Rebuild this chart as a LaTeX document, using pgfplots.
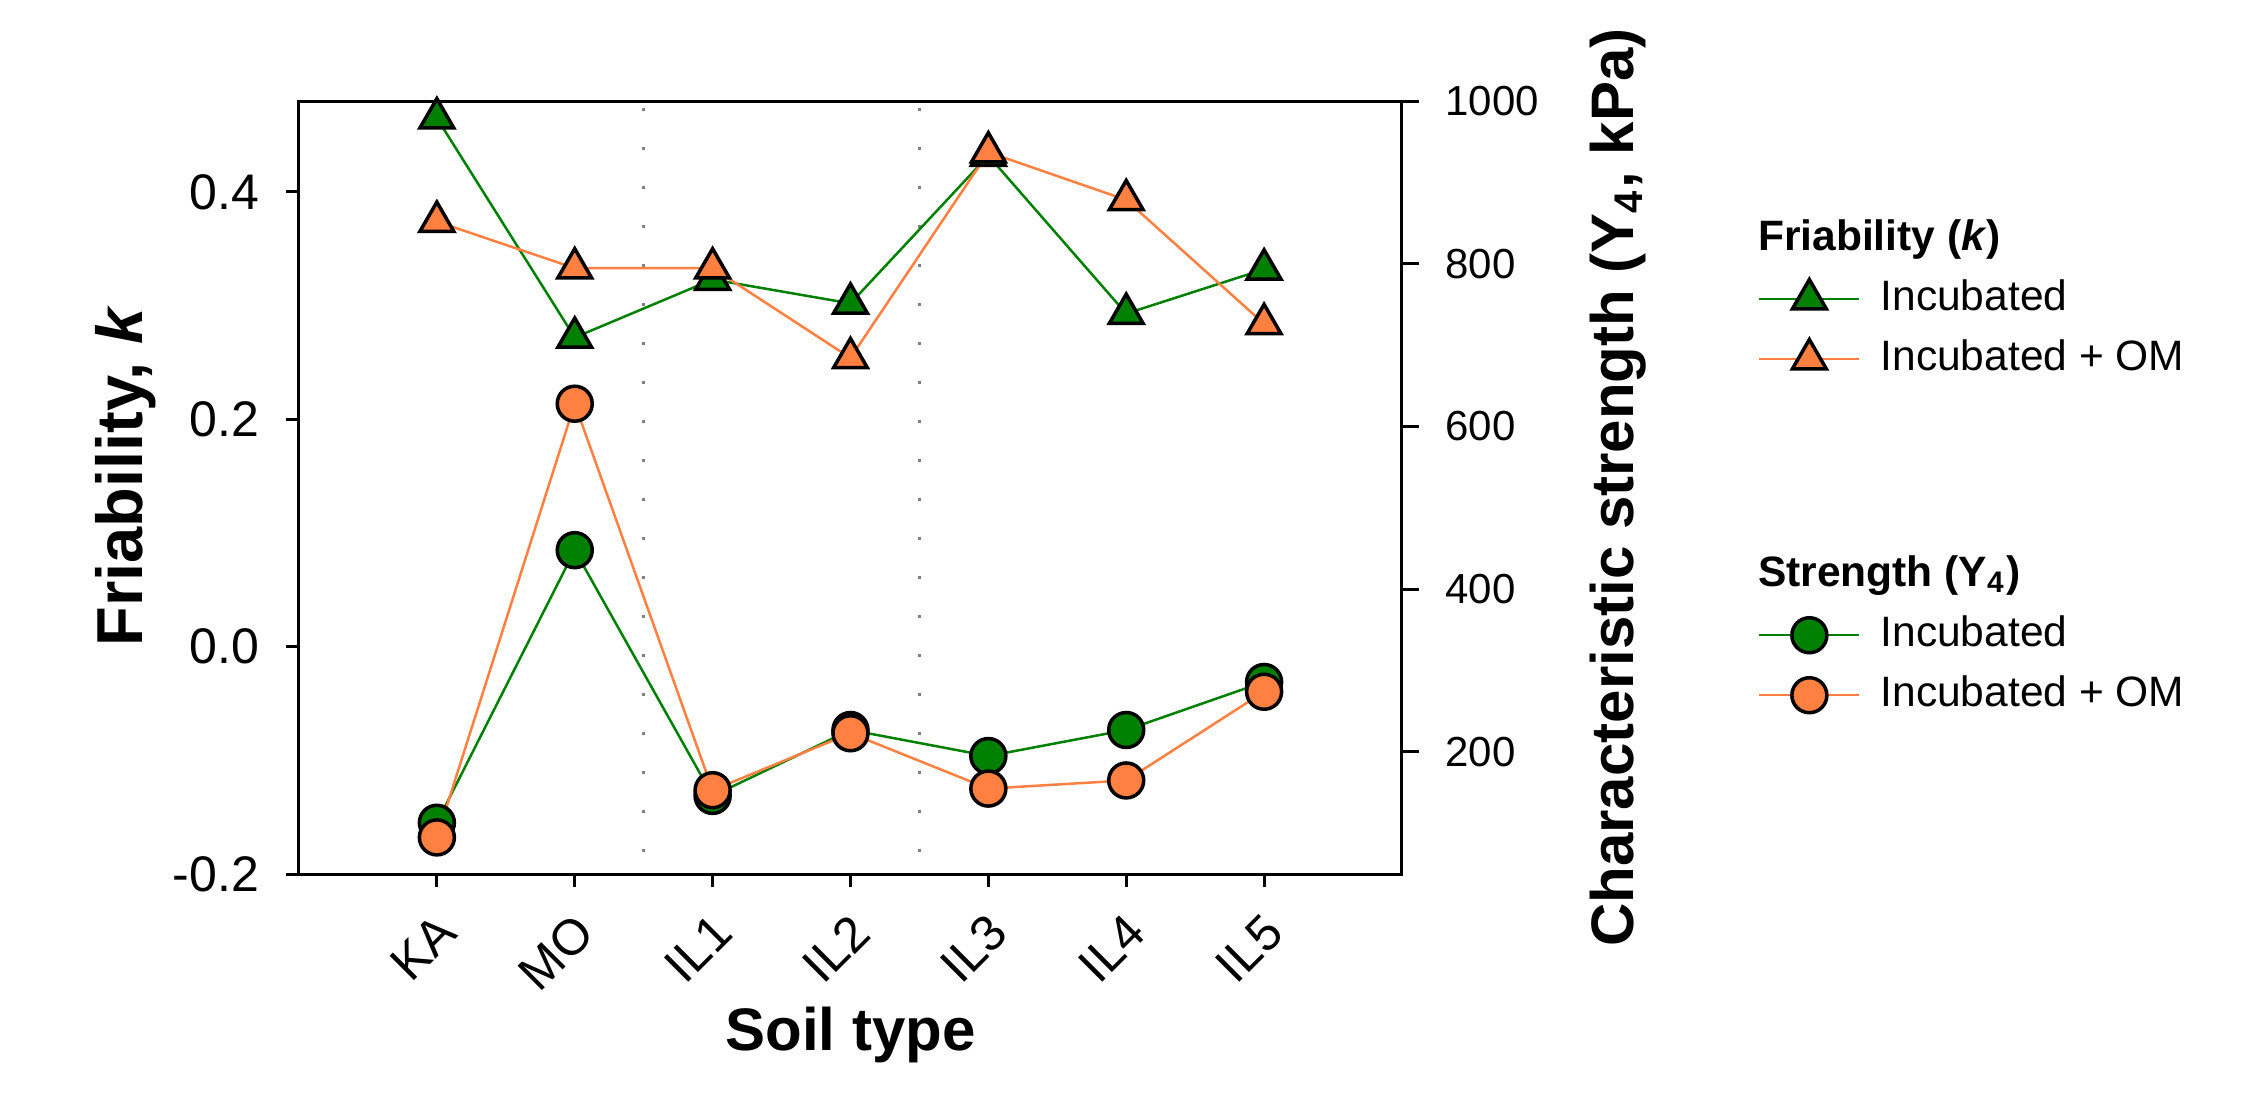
\documentclass[border=0pt]{standalone}
\usepackage{fontspec}
\setmainfont{Liberation Sans}
\usepackage{pgfplots}
\pgfplotsset{compat=1.18}
\definecolor{grn}{HTML}{008000}
\definecolor{ora}{HTML}{FF8040}

\begin{document}
\begin{tikzpicture}
\useasboundingbox (-59.8pt,-46pt) rectangle (391.2pt,174.8pt);
% left axis: friability (triangles)
\begin{axis}[at={(0,0)},anchor=south west,scale only axis,width=220.6pt,height=154.6pt,
 xmin=-1,xmax=7,ymin=-0.2,ymax=0.48,
 xtick={0,...,6},xticklabels={KA,MO,IL1,IL2,IL3,IL4,IL5},
 ytick={-0.2,0,0.2,0.4},
 /pgf/number format/assume math mode=true,
 yticklabel style={/pgf/number format/fixed,/pgf/number format/fixed zerofill,/pgf/number format/precision=1},
 xtick pos=left,ytick pos=left,tick align=outside,major tick length=2.5pt,
 axis line style={-,line width=0.6pt},tick style={black,line width=0.6pt},
 yticklabel style={font=\fontsize{10}{12}\selectfont,xshift=-2pt},
 xticklabel style={xshift=4.5pt,yshift=-5pt,rotate=45,anchor=east,font=\fontsize{10}{12}\selectfont},
 xlabel={Soil type},ylabel={Friability, \textit{k}},
 label style={font=\fontsize{12}{14}\selectfont\bfseries},
 xlabel style={at={(axis description cs:0.5,-0.208)},anchor=center},
 ylabel style={at={(axis description cs:-0.142,0.515)},anchor=base,font=\fontsize{13}{15}\selectfont\bfseries},
 legend cell align=left,
 legend image code/.code={\draw[mark repeat=2,mark phase=2,#1] plot coordinates {(0pt,0pt) (10pt,0pt) (20pt,0pt)};},
 legend style={draw=none,fill=none,at={(1.322,0.850)},anchor=north west,inner sep=0pt,
  row sep=3.6pt,column sep=4pt,font=\fontsize{8.5}{10}\selectfont,
  nodes={inner sep=0pt,text height=6.4pt,text depth=2pt},cells={anchor=west}},
]
\addplot[gray,line width=0.6pt,dash pattern=on 0.6pt off 7.2pt,forget plot] coordinates {(1.5,0.474) (1.5,-0.2)};
\addplot[gray,line width=0.6pt,dash pattern=on 0.6pt off 7.2pt,forget plot] coordinates {(3.5,0.474) (3.5,-0.2)};
\addlegendimage{empty legend}
\addlegendentry{\hspace*{-24.5pt}\bfseries Friability (\textit{k})}
\addplot[grn,line width=0.5pt,mark=triangle*,mark size=3.9pt,mark options={fill=grn,draw=black,line width=0.7pt}]
 coordinates {(0,0.465) (1,0.272) (2,0.323) (3,0.302) (4,0.432) (5,0.293) (6,0.332)};
\addlegendentry{Incubated}
\addplot[ora,line width=0.5pt,mark=triangle*,mark size=3.9pt,mark options={fill=ora,draw=black,line width=0.7pt}]
 coordinates {(0,0.374) (1,0.333) (2,0.333) (3,0.254) (4,0.435) (5,0.393) (6,0.284)};
\addlegendentry{Incubated + OM}
\end{axis}
% right axis: strength (circles)
\begin{axis}[at={(0,0)},anchor=south west,scale only axis,width=220.6pt,height=154.6pt,
 xmin=-1,xmax=7,ymin=50,ymax=1000,
 axis x line=none,axis y line*=right,
 ytick={200,400,...,1000},
 /pgf/number format/assume math mode=true,
 /pgf/number format/1000 sep={},
 tick align=outside,major tick length=3.4pt,
 axis line style={-,line width=0.6pt},tick style={black,line width=0.6pt},
 yticklabel style={font=\fontsize{8.4}{10}\selectfont,xshift=1.8pt},
 ylabel={Characteristic strength (Y\textsubscript{4}, kPa)},
 label style={font=\fontsize{12}{14}\selectfont\bfseries},
 ylabel style={at={(axis description cs:1.196,0.5)},anchor=center},
 legend cell align=left,
 legend image code/.code={\draw[mark repeat=2,mark phase=2,#1] plot coordinates {(0pt,0pt) (10pt,0pt) (20pt,0pt)};},
 legend style={draw=none,fill=none,at={(1.322,0.415)},anchor=north west,inner sep=0pt,
  row sep=3.6pt,column sep=4pt,font=\fontsize{8.5}{10}\selectfont,
  nodes={inner sep=0pt,text height=6.4pt,text depth=2pt},cells={anchor=west}},
]
\addlegendimage{empty legend}
\addlegendentry{\hspace*{-24.5pt}\bfseries Strength (Y\textsubscript{4})}
\addplot[grn,line width=0.5pt,mark=*,mark size=3.5pt,mark options={fill=grn,draw=black,line width=0.7pt}]
 coordinates {(0,113) (1,448) (2,146) (3,227) (4,195) (5,227) (6,286)};
\addlegendentry{Incubated}
\addplot[ora,line width=0.5pt,mark=*,mark size=3.5pt,mark options={fill=ora,draw=black,line width=0.7pt}]
 coordinates {(0,95) (1,628) (2,153) (3,223) (4,155) (5,165) (6,274)};
\addlegendentry{Incubated + OM}
\end{axis}
\end{tikzpicture}
\end{document}
